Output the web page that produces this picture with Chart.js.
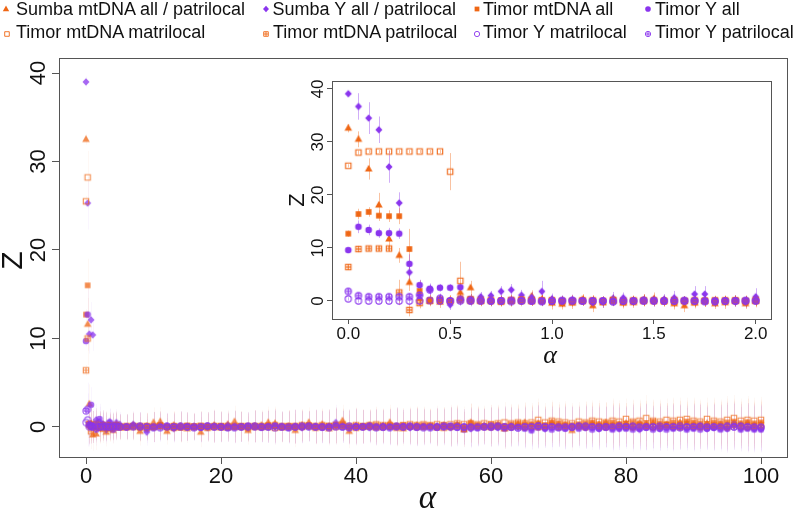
<!DOCTYPE html>
<html><head><meta charset="utf-8">
<script src="https://cdn.jsdelivr.net/npm/chart.js@4"></script>
<style>
html,body{margin:0;padding:0;background:#fff}
body{width:793px;height:510px;overflow:hidden;position:relative;font-family:"Liberation Sans",Arial,sans-serif}
#main{position:absolute;left:0;top:0}
#inset{position:absolute;left:280px;top:70px}
.lt{position:absolute;font-size:18px;line-height:20px;color:#111;white-space:nowrap}
.lm{position:absolute}
</style></head>
<body>
<canvas id="main" width="793" height="510"></canvas>
<canvas id="inset" width="510" height="300"></canvas>
<div id="legend"></div>
<script>
// ---------------- DATA ----------------
const seriesNames = ["Sumba mtDNA all / patrilocal","Sumba Y all / patrilocal","Timor mtDNA all","Timor Y all",
  "Timor mtDNA matrilocal","Timor mtDNA patrilocal","Timor Y matrilocal","Timor Y patrilocal"];

const mainXTicks = [0,20,40,60,80,100];
const mainXTickLabels = ["0","20","40","60","80","100"];
const yTicks = [0,10,20,30,40];
const yTickLabels = ["0","10","20","30","40"];
const insetXTicks = [0,0.5,1,1.5,2];
const insetXTickLabels = ["0.0","0.5","1.0","1.5","2.0"];

const mainX = [0,0.25,0.5,0.75,1,1.5,2,2.5,3,3.5,4,4.5,5,
6,7,8,9,10,11,12,13,14,15,16,17,18,19,20,21,22,23,24,25,26,27,28,29,30,31,32,33,34,35,36,37,38,39,40,
41,42,43,44,45,46,47,48,49,50,51,52,53,54,55,56,57,58,59,60,61,62,63,64,65,66,67,68,69,70,
71,72,73,74,75,76,77,78,79,80,81,82,83,84,85,86,87,88,89,90,91,92,93,94,95,96,97,98,99,100];

const mainErr = [0.6,3.0,2.2,2.0,1.8,1.8,1.7,1.6,1.6,1.5,1.5,1.5,1.4,
1.4,1.5,1.6,1.5,1.7,1.6,1.5,1.6,1.7,1.6,
1.5,1.7,1.6,1.8,1.7,1.6,1.8,1.7,1.6,1.8,
1.7,1.8,1.9,1.7,1.8,1.9,1.8,1.7,1.9,1.8,
1.9,2.0,1.8,1.9,2.0,1.9,1.8,2.0,1.9,2.0,
2.1,1.9,2.0,2.1,2.0,1.9,2.1,2.0,2.2,2.1,
2.0,2.2,2.1,2.0,2.2,2.1,2.3,2.2,2.1,2.3,
2.2,2.4,2.2,2.3,2.2,2.4,2.3,2.2,2.4,2.3,
2.4,2.3,2.5,2.4,2.3,2.5,2.4,2.6,2.4,2.5,
2.4,2.6,2.5,2.4,2.6,2.5,2.4,2.6,2.5,2.7,
2.6,2.5,2.7,2.6,2.6];

const mSumbaMt = [32.5,11.6,2.6,0.4,-0.9,-0.8,-0.2,0.3,-0.6,0.2,-0.4,0.3,-0.1,
-0.1,0.2,-0.5,0.1,0.5,0.6,-0.5,0.2,0.1,-0.2,
0.0,-0.6,0.1,0.2,-0.1,0.3,0.6,0.0,-0.4,0.1,
0.2,0.5,0.4,-0.1,0.1,-0.4,0.2,0.5,0.0,0.3,
-0.2,0.2,0.7,-0.5,0.1,0.0,0.2,-0.1,0.1,0.5,
0.0,-0.2,0.1,0.2,0.0,0.1,-0.1,0.2,0.0,0.3,
-0.3,0.5,0.1,0.2,0.0,0.3,-0.2,0.1,0.3,0.5,
0.2,0.4,0.0,0.5,0.3,0.2,-0.4,0.1,0.2,0.4,
0.3,0.5,0.2,0.3,0.4,0.2,0.5,0.3,0.4,0.2,
0.3,0.1,0.5,0.4,0.3,0.2,0.4,0.1,0.3,0.2,
0.4,0.3,0.5,0.2,0.3];

const mSumbaY = [39.0,25.3,10.5,12.1,10.4,0.8,0.6,0.3,-0.3,0.6,0.2,0.5,0.3,
0.0,0.3,0.1,-0.6,0.0,0.2,0.1,-0.2,0.1,0.0,
0.1,0.0,-0.1,0.1,0.0,0.2,0.1,0.0,-0.1,0.1,
0.0,0.1,0.0,0.1,0.0,0.1,-0.1,0.0,0.1,0.0,
0.1,0.5,0.2,0.0,0.1,0.0,-0.1,0.0,0.1,0.0,
0.1,0.0,-0.1,0.0,0.1,0.0,0.1,0.0,-0.1,0.2,
0.0,-0.2,0.0,0.1,0.0,-0.1,0.0,0.1,0.0,-0.1,
-0.3,0.0,-0.2,0.0,0.1,-0.1,0.0,0.1,-0.1,0.0,
-0.2,0.0,-0.1,-0.2,0.0,-0.1,-0.3,0.0,-0.1,-0.2,
0.0,-0.1,0.0,-0.2,-0.1,0.0,-0.2,-0.1,0.0,-0.2,
0.1,-0.2,-0.1,-0.2,-0.2];

const mTimorMtAll = [12.7,16.0,0.4,0.2,0.0,0.3,-0.1,0.2,0.1,-0.2,0.0,0.1,0.0,
0.0,0.1,-0.1,0.1,0.0,0.2,0.0,0.1,-0.1,0.0,
0.1,0.0,0.1,0.0,0.1,-0.1,0.0,0.1,0.0,0.1,
0.0,0.2,0.1,0.0,0.1,0.0,0.1,0.2,0.0,0.1,
0.0,0.1,0.2,0.0,0.1,0.1,0.0,0.2,0.1,0.0,
0.1,0.2,0.0,0.1,0.2,0.1,0.0,0.2,0.1,0.2,
0.0,0.4,0.2,0.1,0.3,0.2,0.1,0.3,0.4,0.2,
0.3,0.4,0.2,0.5,0.4,0.3,0.2,0.3,0.4,0.5,
0.3,0.4,0.5,0.3,0.4,0.5,0.3,0.4,0.6,0.4,
0.3,0.5,0.4,0.6,0.5,0.4,0.3,0.5,0.4,0.5,
0.6,0.4,0.5,0.4,0.5];

const mTimorYAll = [9.7,12.7,0.3,2.5,0.0,-0.3,0.9,0.3,-0.1,0.5,-0.3,0.2,0.1,
0.0,0.1,0.0,-0.3,0.0,0.1,0.0,-0.1,0.0,0.1,
0.0,-0.1,0.0,0.1,0.0,-0.1,0.0,0.0,0.1,0.0,
-0.1,0.0,0.1,0.0,-0.1,0.0,0.0,0.1,0.0,-0.1,
0.0,0.2,0.0,-0.1,0.0,0.0,0.1,0.0,-0.1,0.0,
0.0,0.1,0.0,-0.1,0.0,0.0,-0.1,0.0,0.0,-0.1,
-0.3,0.0,-0.1,0.0,-0.1,0.0,-0.2,-0.1,0.0,-0.2,
-0.4,-0.1,-0.2,-0.3,-0.1,-0.2,-0.1,-0.2,-0.1,-0.3,
-0.2,-0.1,-0.3,-0.2,-0.2,-0.3,-0.2,-0.1,-0.3,-0.2,
-0.3,-0.2,-0.1,-0.3,-0.2,-0.3,-0.2,-0.1,-0.3,-0.2,
0.3,-0.3,-0.2,-0.3,-0.3];

const mTimorMtMat = [25.5,28.2,0.2,0.1,0.0,0.3,0.1,0.0,0.2,-0.1,0.1,0.0,0.0,
0.0,0.1,0.0,0.1,0.0,0.1,0.0,0.1,0.0,0.1,
0.0,0.1,0.0,0.1,0.0,0.1,0.1,0.0,0.1,0.1,
0.0,0.1,0.2,0.1,0.0,0.1,0.2,0.1,0.1,0.2,
0.1,0.2,0.3,0.1,0.2,0.1,0.2,0.3,0.2,0.2,
0.1,0.2,0.3,0.2,0.3,0.2,0.3,0.2,0.3,0.4,
0.3,0.4,0.3,0.4,0.3,0.4,0.5,0.4,0.5,0.4,
0.5,0.8,0.5,0.7,0.6,0.5,0.4,0.6,0.5,0.7,
0.6,0.5,0.7,0.6,0.9,0.6,0.7,1.0,0.7,0.6,
0.8,0.7,0.8,0.9,0.7,0.6,0.9,0.7,0.6,0.8,
1.0,0.7,0.8,0.7,0.8];

const mTimorMtPat = [6.4,10.0,0.3,-0.5,0.2,0.0,0.1,-0.2,0.0,0.1,0.0,0.2,0.0,
0.1,0.0,0.1,-0.1,0.0,0.1,0.0,-0.1,0.0,0.1,
0.0,0.1,-0.1,0.0,0.1,0.0,0.0,0.1,-0.1,0.0,
0.1,0.0,-0.1,0.0,0.1,0.0,0.0,0.1,-0.1,0.0,
0.1,0.0,0.1,0.0,-0.1,0.0,0.1,0.0,0.0,0.1,
-0.1,0.0,0.1,0.0,0.0,0.1,0.0,-0.1,0.0,0.1,
-0.2,0.0,0.1,0.0,0.0,0.1,-0.1,0.0,0.1,0.0,
0.1,0.0,0.1,0.2,0.0,0.1,0.0,0.1,0.0,0.2,
0.1,0.0,0.1,0.2,0.1,0.0,0.2,0.1,0.0,0.1,
0.2,0.1,0.0,0.2,0.1,0.0,0.1,0.2,0.1,0.0,
0.2,0.1,0.0,0.1,0.2];

const mTimorYMat = [0.5,0.8,0.0,0.1,0.0,0.1,0.0,0.0,0.1,0.0,0.0,0.1,0.0,
0.0,0.0,0.1,0.0,0.0,-0.1,0.0,0.0,0.1,0.0,
0.0,0.0,0.1,0.0,0.0,-0.1,0.0,0.0,0.0,0.1,
0.0,0.0,-0.1,0.0,0.0,0.0,0.1,0.0,0.0,0.0,
-0.1,0.0,0.0,0.1,0.0,0.0,0.0,-0.1,0.0,0.0,
0.1,0.0,0.0,0.0,-0.1,0.0,0.0,0.1,0.0,0.0,
0.0,-0.1,0.0,0.0,0.1,0.0,0.0,0.0,-0.1,0.0,
0.0,0.1,0.0,0.0,0.0,-0.1,0.0,0.0,0.1,0.0,
0.0,0.0,-0.1,0.0,0.0,0.1,0.0,0.0,0.0,-0.1,
0.0,0.0,0.1,0.0,0.0,0.0,-0.1,0.0,0.0,0.1,
0.0,0.0,0.0,-0.1,0.0];

const mTimorYPat = [1.8,2.0,0.2,0.1,0.0,0.3,0.0,0.1,0.0,0.0,0.1,0.0,0.0,
0.0,0.1,0.0,0.0,-0.1,0.0,0.1,0.0,0.0,0.0,
-0.1,0.0,0.1,0.0,0.0,0.0,-0.1,0.0,0.1,0.0,
0.0,0.0,0.1,0.0,-0.1,0.0,0.0,0.1,0.0,0.0,
0.0,0.1,0.0,-0.1,0.0,0.0,0.1,0.0,0.0,-0.1,
0.0,0.0,0.1,0.0,0.0,-0.1,0.0,0.0,0.1,0.0,
0.0,0.0,-0.1,0.0,0.0,0.1,0.0,0.0,-0.1,0.0,
0.0,0.1,0.0,0.0,-0.1,0.0,0.0,0.1,0.0,0.0,
-0.1,0.0,0.0,0.1,0.0,0.0,-0.1,0.0,0.0,0.1,
0.0,0.0,-0.1,0.0,0.0,0.1,0.0,0.0,-0.1,0.0,
0.0,0.1,0.0,0.0,-0.1];

const insetX = [0,0.05,0.1,0.15,0.2,0.25,0.3,0.35,0.4,0.45,0.5,0.55,0.6,0.65,0.7,0.75,0.8,0.85,0.9,0.95,
1,1.05,1.1,1.15,1.2,1.25,1.3,1.35,1.4,1.45,1.5,1.55,1.6,1.65,1.7,1.75,1.8,1.85,1.9,1.95,2];

const iSumbaMt = [32.6,30.5,24.9,18.1,11.7,8.6,3.5,0.5,0.0,-0.2,
0.1,1.6,2.5,0.0,0.2,-0.1,0.0,0.5,0.9,0.3,
-0.4,-0.6,-0.4,0.3,-0.9,-0.3,0.1,-0.4,-0.3,0.2,
0.4,0.1,-0.5,-0.9,-0.4,0.0,-0.5,-0.3,0.0,-0.5,0.0];
const iSumbaMtErr = [0.8,1.5,2.0,2.3,1.6,1.4,1.6,1.2,1.0,1.1,
1.0,1.2,1.3,1.0,0.9,1.0,1.1,1.0,1.1,1.0,
1.2,1.0,1.1,1.0,1.2,1.0,1.1,1.0,1.0,1.1,
1.2,1.0,1.1,1.2,1.0,1.1,1.0,1.2,1.1,1.0,1.2];

const iSumbaY = [39.1,36.7,34.5,32.3,25.3,18.5,5.4,1.1,2.1,0.4,
-0.7,0.2,0.0,0.8,1.0,1.8,2.1,1.1,0.7,1.8,
0.4,0.0,0.2,0.0,-0.3,-0.2,0.5,0.6,0.0,0.2,
0.0,0.3,0.6,-0.1,1.3,1.3,-0.1,0.0,-0.1,-0.2,0.8];
const iSumbaYErr = [0.4,2.5,3.0,2.5,3.0,2.0,2.2,1.5,1.2,1.0,
1.0,1.1,1.0,0.9,0.9,1.0,1.1,1.0,1.0,2.0,
1.0,1.1,1.0,0.9,1.0,1.1,1.2,1.0,0.9,1.0,
1.1,1.0,1.3,0.9,1.5,1.5,1.0,0.9,1.0,1.1,1.6];

const iTimorMtAll = [12.7,16.4,16.8,16.1,16.0,16.0,9.8,1.9,0.2,0.3,
0.0,0.5,0.3,0.2,0.0,0.1,0.0,0.3,0.2,0.1,
-0.2,-0.1,0.0,0.1,-0.2,0.0,0.1,-0.2,0.0,0.1,
0.0,-0.1,-0.2,0.0,-0.1,0.1,-0.2,0.0,0.1,-0.1,0.2];
const iTimorMtAllErr = [0.6,1.0,0.9,1.0,1.1,1.5,3.8,2.0,1.0,0.9,
1.0,1.1,0.9,1.0,0.9,1.0,0.9,1.0,1.1,1.0,
0.9,1.0,0.9,1.0,1.1,0.9,1.0,0.9,1.0,1.1,
0.9,1.0,1.0,0.9,1.0,1.1,0.9,1.0,0.9,1.0,1.0];

const iTimorYAll = [9.6,14.0,13.4,12.8,12.8,12.7,7.0,3.0,2.3,2.5,
2.5,2.6,0.4,0.2,0.0,0.1,0.0,0.2,0.1,0.0,
0.1,0.0,0.1,0.0,-0.1,0.0,0.2,0.1,0.0,0.1,
0.0,0.1,0.2,0.0,0.1,0.0,-0.1,0.0,0.1,0.0,0.1];
const iTimorYAllErr = [0.4,1.2,1.0,0.9,1.0,1.0,1.8,1.0,0.8,0.7,
0.7,0.8,0.9,0.8,1.0,0.8,0.9,0.7,0.9,0.8,
1.0,0.8,0.9,0.7,0.9,0.8,1.0,0.8,0.9,0.7,
0.9,0.8,1.0,0.8,0.9,0.7,0.9,0.8,1.0,0.8,0.9];

const iTimorMtMat = [25.5,28.0,28.2,28.2,28.2,28.2,28.2,28.2,28.2,28.2,
24.4,3.8,0.3,0.0,0.1,0.0,0.2,0.1,0.0,0.1,
0.0,-0.1,0.0,0.1,0.0,-0.1,0.2,0.0,0.1,0.0,
0.1,0.0,-0.1,0.0,0.1,0.0,0.1,0.0,0.1,0.0,0.1];
const iTimorMtMatErr = [0.3,0.4,0.3,0.3,0.3,0.3,0.3,0.3,0.3,0.3,
3.5,3.6,1.0,0.9,1.0,0.9,1.0,1.1,0.9,1.0,
0.9,1.0,1.1,0.9,1.0,0.9,1.0,1.1,0.9,1.0,
1.1,0.9,1.0,0.9,1.0,1.1,0.9,1.0,0.9,1.0,1.1];

const iTimorMtPat = [6.4,9.8,9.9,9.9,9.9,1.6,-1.7,-0.4,0.0,0.1,
0.0,0.2,0.0,0.1,0.0,-0.1,0.0,0.1,0.0,0.0,
0.1,0.0,-0.1,0.0,0.1,0.0,0.0,-0.1,0.0,0.1,
0.0,0.0,0.1,0.0,-0.1,0.0,0.0,0.1,0.0,0.0,0.0];
const iTimorMtPatErr = [0.5,0.6,0.5,0.5,0.6,2.4,1.2,1.0,0.8,0.9,
0.8,0.9,0.8,0.9,1.0,0.8,0.9,0.8,0.9,1.0,
0.8,0.9,0.8,0.9,1.0,0.8,0.9,0.8,0.9,1.0,
0.8,0.9,0.8,0.9,1.0,0.8,0.9,0.8,0.9,1.0,0.9];

const iTimorYMat = [0.4,0.0,0.0,0.0,0.0,0.0,0.0,0.0,0.1,0.0,
0.0,0.0,0.1,0.0,0.0,0.0,-0.1,0.0,0.0,0.0,
0.0,0.1,0.0,0.0,0.0,0.0,-0.1,0.0,0.0,0.0,
0.1,0.0,0.0,0.0,0.0,-0.1,0.0,0.0,0.0,0.1,0.0];
const iTimorYMatErr = [0.3,0.3,0.3,0.3,0.3,0.3,0.4,0.5,0.6,0.5,
0.6,0.5,0.6,0.7,0.6,0.5,0.6,0.7,0.6,0.5,
0.6,0.7,0.6,0.5,0.6,0.7,0.6,0.5,0.6,0.7,
0.6,0.5,0.6,0.7,0.6,0.5,0.6,0.7,0.6,0.5,0.6];

const iTimorYPat = [1.8,1.0,0.8,0.8,0.8,0.8,0.8,1.1,2.1,0.5,
0.0,0.3,0.0,0.1,0.0,0.0,0.1,0.0,0.0,-0.1,
0.0,0.0,0.1,0.0,0.0,0.0,-0.1,0.0,0.0,0.1,
0.0,0.0,0.0,0.1,0.0,0.0,-0.1,0.0,0.0,0.0,0.1];
const iTimorYPatErr = [0.5,0.5,0.4,0.4,0.4,0.5,0.6,0.8,0.9,0.7,
0.6,0.7,0.6,0.7,0.8,0.6,0.7,0.6,0.7,0.8,
0.6,0.7,0.6,0.7,0.8,0.6,0.7,0.6,0.7,0.8,
0.6,0.7,0.6,0.7,0.8,0.6,0.7,0.6,0.7,0.8,0.7];

// ---------------- STYLE ----------------
const ORANGE = '#EF6614', PURPLE = '#8A35EE';
const shapes = ['tri','dia','sq','cir','osq','psq','ocir','pcir'];
const colors = [ORANGE,PURPLE,ORANGE,PURPLE,ORANGE,ORANGE,PURPLE,PURPLE];
const FONT = '"Liberation Sans", Arial, sans-serif';

function rgba(hex,a){const n=parseInt(hex.slice(1),16);return `rgba(${n>>16},${(n>>8)&255},${n&255},${a})`;}

function makeMarker(shape,color,alpha,k,lw){
  const c=document.createElement('canvas'); c.width=14; c.height=14;
  const g=c.getContext('2d'); const cx=7, cy=7;
  g.globalAlpha=alpha; g.fillStyle=color; g.strokeStyle=color; g.lineWidth=lw||1.1;
  g.beginPath();
  if(shape==='tri'){const h=6.8*k,w=7.6*k;g.moveTo(cx,cy-0.62*h);g.lineTo(cx+w/2,cy+0.38*h);g.lineTo(cx-w/2,cy+0.38*h);g.closePath();g.fill();}
  else if(shape==='dia'){const r=3.8*k;g.moveTo(cx,cy-r);g.lineTo(cx+r*0.92,cy);g.lineTo(cx,cy+r);g.lineTo(cx-r*0.92,cy);g.closePath();g.fill();}
  else if(shape==='sq'){const s=5.6*k;g.fillRect(cx-s/2,cy-s/2,s,s);}
  else if(shape==='cir'){g.arc(cx,cy,3.3*k,0,Math.PI*2);g.fill();}
  else if(shape==='osq'||shape==='psq'){const s=5.4*k;g.rect(cx-s/2,cy-s/2,s,s);
    if(shape==='psq'){g.moveTo(cx,cy-s/2);g.lineTo(cx,cy+s/2);g.moveTo(cx-s/2,cy);g.lineTo(cx+s/2,cy);}g.stroke();}
  else if(shape==='ocir'||shape==='pcir'){const r=3.1*k;g.arc(cx,cy,r,0,Math.PI*2);
    if(shape==='pcir'){g.moveTo(cx,cy-r);g.lineTo(cx,cy+r);g.moveTo(cx-r,cy);g.lineTo(cx+r,cy);}g.stroke();}
  return c;
}

// ---------------- PLUGINS ----------------
const errorBars = {
  id:'errorBars',
  beforeDatasetsDraw(chart){
    const {ctx, scales:{x,y}} = chart;
    ctx.save(); ctx.lineWidth=1;
    const sets = chart.data.datasets.slice().sort((a,b)=>b.order-a.order);
    sets.forEach(d=>{
      ctx.strokeStyle=d.errColor;
      d.data.forEach((p,j)=>{
        const e=d.err[j]; if(!e) return;
        const px=Math.round(x.getPixelForValue(p.x))+0.5;
        ctx.beginPath(); ctx.moveTo(px,y.getPixelForValue(p.y-e)); ctx.lineTo(px,y.getPixelForValue(p.y+e)); ctx.stroke();
      });
    });
    ctx.restore();
  }
};
function framePlugin(fillWhite){
  return {id:'frame',
    beforeDraw(chart){ if(!fillWhite) return; const a=chart.chartArea,c=chart.ctx; c.save(); c.fillStyle='#fff'; c.fillRect(a.left,a.top,a.right-a.left,a.bottom-a.top); c.restore(); },
    afterDraw(chart){ const a=chart.chartArea,c=chart.ctx; c.save(); c.strokeStyle='#555'; c.lineWidth=1;
      c.strokeRect(Math.round(a.left)+0.5,Math.round(a.top)+0.5,Math.round(a.right-a.left)-1,Math.round(a.bottom-a.top)); c.restore(); }};
}
function axisText(cfg){
  return {id:'axisText', afterDraw(chart){
    const {ctx, scales:{y}, chartArea:a} = chart;
    ctx.save(); ctx.fillStyle='#111'; ctx.textAlign='center'; ctx.textBaseline='middle';
    ctx.font=cfg.tickFont;
    yTicks.forEach((v,i)=>{ctx.save();ctx.translate(cfg.tickX,y.getPixelForValue(v));ctx.rotate(-Math.PI/2);ctx.fillText(yTickLabels[i],0,0);ctx.restore();});
    ctx.font=cfg.zFont; ctx.save(); ctx.translate(cfg.zX,(a.top+a.bottom)/2+cfg.zDy); ctx.rotate(-Math.PI/2); ctx.fillText('Z',0,0); ctx.restore();
    ctx.font=cfg.aFont; ctx.fillText('\u03B1',(a.left+a.right)/2+cfg.aDx,cfg.aY);
    ctx.restore();
  }};
}

// ---------------- CHARTS ----------------
function buildSets(xs, series, errs, alpha, errAlpha){
  return series.map((ys,i)=>({
    label: seriesNames[i],
    data: xs.map((x,j)=>({x, y: ys[j]})),
    pointStyle: makeMarker(shapes[i], colors[i], alpha, 1),
    pointRadius: 4, showLine:false,
    order: 8-i,
    err: errs[i], errColor: rgba(colors[i], errAlpha)
  }));
}
function axisCfg(min,max,ticks,labels,fit,isX,tickLen,fontSize){
  return {type:'linear', min, max,
    afterBuildTicks: a=>{a.ticks = ticks.map(v=>({value:v}));},
    afterFit: s=>{ if(isX) s.height=fit; else s.width=fit; },
    grid:{drawOnChartArea:false, drawTicks:true, tickLength:tickLen, color:'#555', tickColor:'#555', lineWidth:1},
    border:{display:false},
    ticks: isX ? {display:true, font:{size:fontSize, family:FONT}, color:'#111', padding:0, maxRotation:0, minRotation:0, autoSkip:false,
      callback:(v,i)=>labels[i]} : {display:false}
  };
}

const mainSeries = [mSumbaMt,mSumbaY,mTimorMtAll,mTimorYAll,mTimorMtMat,mTimorMtPat,mTimorYMat,mTimorYPat];
new Chart(document.getElementById('main'),{
  type:'scatter',
  data:{datasets: buildSets(mainX, mainSeries, mainSeries.map(()=>mainErr), 0.75, 0.045)},
  options:{responsive:false, animation:false, devicePixelRatio:1, events:[],
    layout:{padding:{top:58,right:1,left:0,bottom:0}},
    plugins:{legend:{display:false}, tooltip:{enabled:false}},
    scales:{
      x: axisCfg(-4,104,mainXTicks,mainXTickLabels,53,true,7,22),
      y: axisCfg(-3.4,41.7,yTicks,yTickLabels,59,false,7,22)
    }},
  plugins:[errorBars, framePlugin(false), axisText({tickFont:'22px '+FONT, tickX:38.5, zFont:'30px '+FONT, zX:14, zDy:3, aFont:'italic 33px "Liberation Serif", serif', aY:499, aDx:4})]
});

const insetSeries = [iSumbaMt,iSumbaY,iTimorMtAll,iTimorYAll,iTimorMtMat,iTimorMtPat,iTimorYMat,iTimorYPat];
const insetErrs = [iSumbaMtErr,iSumbaYErr,iTimorMtAllErr,iTimorYAllErr,iTimorMtMatErr,iTimorMtPatErr,iTimorYMatErr,iTimorYPatErr];
new Chart(document.getElementById('inset'),{
  type:'scatter',
  data:{datasets: buildSets(insetX, insetSeries, insetErrs, 1, 0.4)},
  options:{responsive:false, animation:false, devicePixelRatio:1, events:[],
    layout:{padding:{top:11,right:18,left:0,bottom:0}},
    plugins:{legend:{display:false}, tooltip:{enabled:false}},
    scales:{
      x: axisCfg(-0.08,2.08,insetXTicks,insetXTickLabels,51,true,5,17),
      y: axisCfg(-3.4,41.5,yTicks,yTickLabels,52,false,5,17)
    }},
  plugins:[framePlugin(true), errorBars, axisText({tickFont:'17px '+FONT, tickX:38.5, zFont:'22px '+FONT, zX:18, zDy:0, aFont:'italic 26px "Liberation Serif", serif', aY:286, aDx:-2})]
});

// ---------------- LEGEND ----------------
const legendPos = [
  {mx:5.5,tx:16,row:0},{mx:265.5,tx:272.5,row:0},{mx:476.5,tx:483,row:0},{mx:648,tx:655,row:0},
  {mx:7,tx:16,row:1},{mx:266,tx:273,row:1},{mx:476.5,tx:483,row:1},{mx:648,tx:655,row:1}];
const rowMarkerY=[8.5,33.5], rowTextTop=[-1,22];
const leg=document.getElementById('legend');
seriesNames.forEach((name,i)=>{
  const p=legendPos[i];
  const m=makeMarker(shapes[i],colors[i],1,0.85,0.9); m.className='lm';
  m.style.left=(p.mx-7)+'px'; m.style.top=(rowMarkerY[p.row]-7)+'px'; leg.appendChild(m);
  const t=document.createElement('div'); t.className='lt'; t.textContent=name;
  t.style.left=p.tx+'px'; t.style.top=rowTextTop[p.row]+'px'; leg.appendChild(t);
});
</script>
</body></html>
